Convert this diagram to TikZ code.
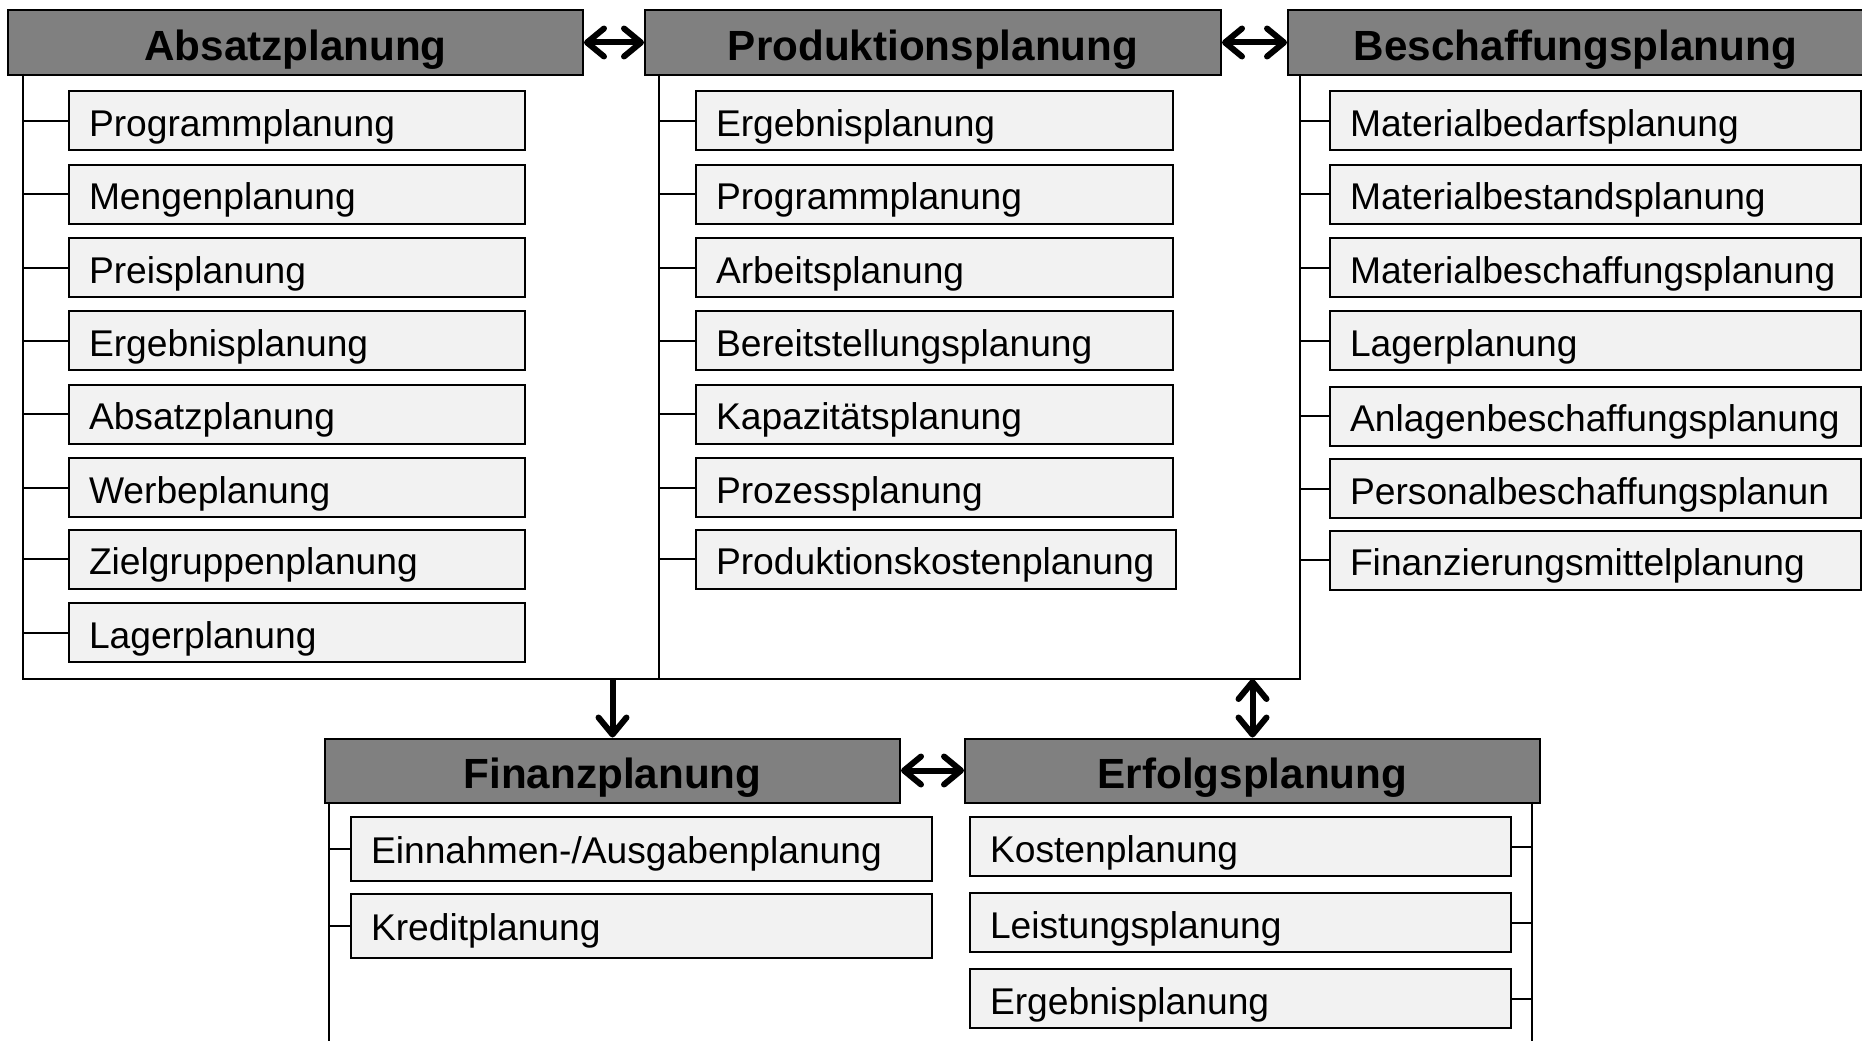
\documentclass[tikz,border=0pt]{standalone}
\usepackage{fontspec}
\setmainfont{Liberation Sans}
\usetikzlibrary{arrows.meta}
\definecolor{hdrgray}{RGB}{128,128,128}
\definecolor{itemgray}{RGB}{242,242,242}
\newcommand\hdrfont{\fontsize{42.2pt}{50pt}\selectfont\bfseries}
\newcommand\itemfont{\fontsize{37.2pt}{44pt}\selectfont}

\begin{document}
\begin{tikzpicture}[x=1pt,y=-1pt,
  hdr/.style={draw=black, line width=2pt, fill=hdrgray, inner sep=0pt,
    anchor=north west, minimum width=575pt, text height=50pt, text depth=14pt,
    font=\hdrfont},
  item/.style={draw=black, line width=2pt, fill=itemgray, inner xsep=20pt,
    inner ysep=0pt, anchor=north west, align=left, text height=45pt,
    text depth=14pt, font=\itemfont},
  tallitem/.style={item, text height=46pt, text depth=18pt},
  link/.style={line width=2pt},
  tip/.tip={Straight Barb[length=17pt,width=28pt,round]},
  flow/.style={line width=6pt, -tip},
  biflow/.style={line width=6pt, tip-tip}]
\useasboundingbox (0,0) rectangle (1862,1041);

% upper planning areas
\node[hdr] (absatz) at (7,9.5) {Absatzplanung};
\node[hdr, minimum width=576pt] (produktion) at (644,9.5) {Produktionsplanung};
\node[hdr] (beschaffung) at (1287,9.5) {Beschaffungsplanung};

% spines and common foot line of the upper areas
\coordinate (sA) at (22.6,73.6);
\coordinate (sP) at (659,73.6);
\coordinate (sB) at (1300,73.6);
\coordinate (foot) at (0,679);
\draw[link] (sA) -- (sA |- foot) -- (sB |- foot) -- (sB);
\draw[link] (sP) -- (sP |- foot);

% Absatzplanung items
\foreach \n/\t/\y in {a1/Programmplanung/90, a2/Mengenplanung/163.5,
    a3/Preisplanung/237, a4/Ergebnisplanung/310, a5/Absatzplanung/383.5,
    a6/Werbeplanung/457, a7/Zielgruppenplanung/528.5, a8/Lagerplanung/602}{
  \node[item, text width=416pt] (\n) at (68,\y) {\t};
  \draw[link] (\n.west) -- (\n.west -| sA);
}

% Produktionsplanung items
\foreach \n/\t/\y in {p1/Ergebnisplanung/90, p2/Programmplanung/163.5,
    p3/Arbeitsplanung/237, p4/Bereitstellungsplanung/310,
    p5/Kapazitätsplanung/383.5, p6/Prozessplanung/457}{
  \node[item, text width=437pt] (\n) at (695,\y) {\t};
  \draw[link] (\n.west) -- (\n.west -| sP);
}
\node[item, text width=440pt] (p7) at (695,528.5) {Produktionskostenplanung};
\draw[link] (p7.west) -- (p7.west -| sP);

% Beschaffungsplanung items
\foreach \n/\t/\y in {b1/Materialbedarfsplanung/90,
    b2/Materialbestandsplanung/163.5, b3/Materialbeschaffungsplanung/237,
    b4/Lagerplanung/310, b5/Anlagenbeschaffungsplanung/385.5,
    b6/Personalbeschaffungsplanun/458, b7/Finanzierungsmittelplanung/529.5}{
  \node[item, text width=491pt] (\n) at (1329,\y) {\t};
  \draw[link] (\n.west) -- (\n.west -| sB);
}

% lower planning areas
\node[hdr] (finanz) at (324,737.5) {Finanzplanung};
\node[hdr] (erfolg) at (964,737.5) {Erfolgsplanung};

\coordinate (sF) at (329,801.5);
\coordinate (sFend) at (329,1041);
\coordinate (sE) at (1532,801.5);
\coordinate (sEend) at (1532,1041);
\draw[link] (sF) -- (sFend);
\draw[link] (sE) -- (sEend);

% Finanzplanung items
\foreach \n/\t/\y in {f1/{Einnahmen-/Ausgabenplanung}/816, f2/Kreditplanung/893}{
  \node[tallitem, text width=541pt] (\n) at (350,\y) {\t};
  \draw[link] (\n.west) -- (\n.west -| sF);
}

% Erfolgsplanung items
\foreach \n/\t/\y in {e1/Kostenplanung/816, e2/Leistungsplanung/892,
    e3/Ergebnisplanung/968}{
  \node[item, text width=501pt] (\n) at (969,\y) {\t};
  \draw[link] (\n.east) -- (\n.east -| sE);
}

% relations between the areas
\draw[biflow] (absatz.east) -- (produktion.west);
\draw[biflow] (produktion.east) -- (beschaffung.west);
\draw[flow] (finanz.north |- foot) -- (finanz.north);
\draw[biflow] (erfolg.north |- foot) -- (erfolg.north);
\draw[biflow] (finanz.east) -- (erfolg.west);
\end{tikzpicture}
\end{document}
